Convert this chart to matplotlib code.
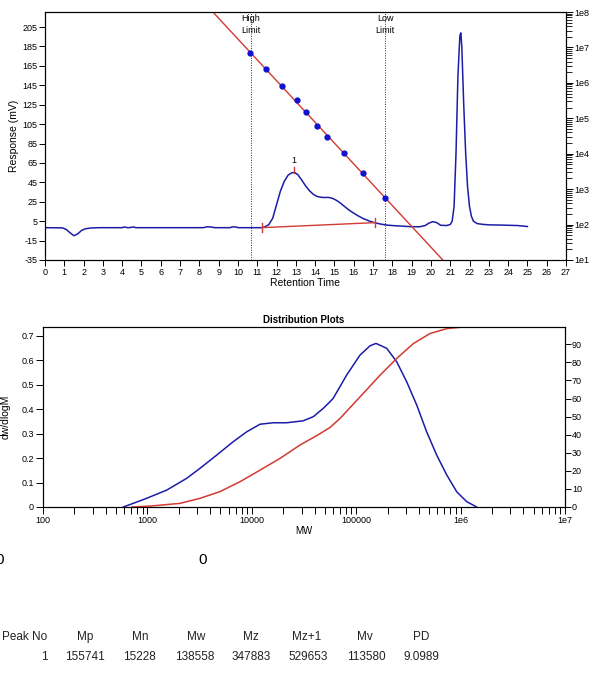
import numpy as np
import matplotlib.pyplot as plt
from matplotlib.ticker import FixedLocator, LogLocator, NullFormatter

plt.rcParams['font.family'] = ['Liberation Sans', 'DejaVu Sans']
plt.rcParams['axes.unicode_minus'] = False

# chromatogram: retention time (min) vs response (mV)
rt = [0, 0.9, 1.1, 1.3, 1.5, 1.7, 1.9, 2.1, 2.4, 2.8, 4.0, 4.1, 4.3, 4.6, 4.7,
      8.2, 8.4, 8.6, 8.8, 9.6, 9.7, 9.9, 10.0, 11.2, 11.4, 11.6, 11.8, 12.0,
      12.2, 12.4, 12.6, 12.8, 12.95, 13.1, 13.3, 13.5, 13.7, 13.9, 14.1, 14.3,
      14.5, 14.7, 14.9, 15.1, 15.3, 15.5, 15.7, 15.9, 16.2, 16.5, 16.8, 17.1,
      17.4, 17.7, 18.0, 18.4, 18.9, 19.4, 19.7, 19.9, 20.1, 20.3, 20.5, 20.8,
      21.0, 21.1, 21.2, 21.3, 21.4, 21.5, 21.55, 21.6, 21.7, 21.8, 21.9, 22.0,
      22.1, 22.2, 22.4, 22.7, 23.0, 23.6, 24.5, 25.0]
mv = [-1.7, -1.9, -3.5, -7, -10, -8, -4.5, -2.8, -2.0, -1.7, -1.7, -1.0, -1.8, -1.0, -1.7,
      -1.7, -0.8, -1.0, -1.7, -1.7, -0.9, -1.0, -1.7, -1.7, -0.8, 1.5, 8, 22,
      36, 46, 52.5, 55, 55, 53, 47.5, 41.5, 36.5, 32.7, 30.5, 29.6,
      29.4, 29.5, 28.5, 26.5, 23.8, 20.5, 17.3, 14.5, 10.8, 7.6, 5.2, 3.3,
      2.0, 1.0, 0.5, 0, -0.6, -0.8, 0.5, 3, 4.5, 3.5, 0.8, 0.5,
      1.5, 5, 20, 75, 155, 196, 199, 185, 125, 75, 40, 20,
      10, 5, 2.5, 1.7, 1.2, 1.0, 0.5, -0.5]

# calibration standards: retention time vs log10(M)
cal_rt = [10.62, 11.45, 12.28, 13.06, 13.52, 14.09, 14.61, 15.49, 16.48, 17.62]
cal_logm = [6.84, 6.39, 5.91, 5.52, 5.18, 4.78, 4.47, 4.02, 3.46, 2.75]

high_limit = 10.65
low_limit = 17.62
base_rt = [11.23, 17.1]
base_mv = [-1.7, 3.5]
peak_rt, peak_mv = 12.92, 55

# distribution plots (log10 MW)
dw_logm = [2.77, 2.865, 2.99, 3.185, 3.376, 3.504, 3.664, 3.823, 3.951, 4.079,
           4.206, 4.334, 4.493, 4.59, 4.685, 4.749, 4.78, 4.909, 5.036,
           5.132, 5.19, 5.292, 5.388, 5.484, 5.58, 5.675, 5.771, 5.867, 5.963,
           6.058, 6.154]
dw = [0, 0.015, 0.035, 0.069, 0.117, 0.158, 0.212, 0.267, 0.307, 0.338,
      0.344, 0.344, 0.352, 0.369, 0.403, 0.43, 0.444, 0.539, 0.62,
      0.658, 0.668, 0.648, 0.593, 0.511, 0.416, 0.307, 0.212, 0.131, 0.062,
      0.022, 0.0]
cum_logm = [2.85, 3.025, 3.312, 3.504, 3.695, 3.887, 4.079, 4.27, 4.462, 4.622,
            4.749, 4.845, 5.036, 5.228, 5.388, 5.547, 5.707, 5.867, 6.026, 6.17]
cum = [0, 0.5, 2.0, 4.8, 8.5, 14, 20.4, 26.9, 34.3, 39.5,
       44.0, 49, 60.9, 72.9, 82.2, 90.4, 96, 98.7, 99.6, 99.6]

headers = ["Peak No", "Mp", "Mn", "Mw", "Mz", "Mz+1", "Mv", "PD"]
values = ["1", "155741", "15228", "138558", "347883", "529653", "113580", "9.0989"]

blue = '#1c1ca8'
red = '#d23a32'

fig = plt.figure(figsize=(6, 6.98), dpi=100)
W, H = 600, 698

# ---- chromatogram ----
ax1 = fig.add_axes([45 / W, 1 - 260 / H, 521 / W, 248 / H])
ax1.plot(rt, mv, color=blue, lw=1.1)
ax1.set_xlim(0, 27)
ax1.set_ylim(-35, 220.5)
ax1.set_xticks(range(0, 28))
ax1.set_yticks(range(-35, 206, 20))
ax1.tick_params(direction='out', length=4, width=0.7, labelsize=6.5, pad=1.5)
ax1.set_xlabel("Retention Time", fontsize=7.5, labelpad=1)
ax1.set_ylabel("Response (mV)", fontsize=7.5, labelpad=2)
for lim in (high_limit, low_limit):
    ax1.axvline(lim, color=blue, lw=0.7, ls=(0, (1, 1.5)))
ax1.text(high_limit, 214, "High", ha='center', va='center', fontsize=6.5)
ax1.text(high_limit, 201, "Limit", ha='center', va='center', fontsize=6.5)
ax1.text(low_limit, 214, "Low", ha='center', va='center', fontsize=6.5)
ax1.text(low_limit, 201, "Limit", ha='center', va='center', fontsize=6.5)

# integration baseline with end marks
ax1.plot(base_rt, base_mv, color=red, lw=1)
for bx, by in zip(base_rt, base_mv):
    ax1.plot([bx, bx], [by - 4.5, by + 4.5], color=red, lw=1)
ax1.plot([peak_rt, peak_rt], [peak_mv, peak_mv + 6], color=red, lw=1)
ax1.text(peak_rt, peak_mv + 8, "1", ha='center', va='bottom', fontsize=6.5)

# calibration on log axis
ax1r = ax1.twinx()
ax1r.set_yscale('log')
ax1r.set_ylim(10, 1e8)
coef = np.polyfit(cal_rt, cal_logm, 1)
xs = np.linspace(0, 27, 200)
ax1r.plot(xs, 10 ** np.polyval(coef, xs), color=red, lw=1)
ax1r.plot(cal_rt, 10 ** np.array(cal_logm), 'o', color='#1010d0', ms=3.5)
ax1r.yaxis.set_major_locator(FixedLocator([10 ** k for k in range(1, 9)]))
ax1r.set_yticklabels(["1e%d" % k for k in range(1, 9)])
ax1r.yaxis.set_minor_locator(LogLocator(base=10, subs=np.arange(2, 10)))
ax1r.yaxis.set_minor_formatter(NullFormatter())
ax1r.tick_params(which='major', direction='out', length=5, width=0.7, labelsize=6.5, pad=1)
ax1r.tick_params(which='minor', direction='out', length=4, width=0.6)
ax1r.set_xlim(0, 27)

# ---- distribution plots ----
ax2 = fig.add_axes([43 / W, 1 - 507 / H, 522 / W, 180 / H])
ax2.set_xscale('log')
ax2.plot(10 ** np.array(dw_logm), dw, color=blue, lw=1.1)
ax2.set_xlim(100, 1e7)
ax2.set_ylim(0, 0.735)
ax2.set_yticks(np.arange(0, 0.71, 0.1))
ax2.set_yticklabels(["0"] + ["%.1f" % v for v in np.arange(0.1, 0.71, 0.1)])
ax2.xaxis.set_major_locator(FixedLocator([10 ** k for k in range(2, 8)]))
ax2.set_xticklabels(["100", "1000", "10000", "100000", "1e6", "1e7"])
ax2.xaxis.set_minor_locator(LogLocator(base=10, subs=np.arange(2, 10)))
ax2.xaxis.set_minor_formatter(NullFormatter())
ax2.tick_params(which='both', direction='out', length=5, width=0.7, labelsize=6.5, pad=1.5)
ax2.set_xlabel("MW", fontsize=7, labelpad=1)
ax2.set_ylabel("dw/dlogM", fontsize=7.5, labelpad=8)
ax2.set_title("Distribution Plots", fontsize=7, fontweight='bold', pad=3)

ax2r = ax2.twinx()
ax2r.plot(10 ** np.array(cum_logm), cum, color=red, lw=1.1)
ax2r.set_ylim(0, 99.6)
ax2r.set_yticks(range(0, 91, 10))
ax2r.tick_params(direction='out', length=4, width=0.7, labelsize=6.5, pad=1)
for a in (ax1, ax2, ax1r, ax2r):
    for s in a.spines.values():
        s.set_linewidth(0.8)

# ---- results text ----
fig.text(0 / W, 1 - 560 / H, "0", ha='center', va='center', fontsize=11)
fig.text(203 / W, 1 - 560 / H, "0", ha='center', va='center', fontsize=11)

head_x = [25, 85, 140, 196, 251, 307, 365, 421]
val_x = [48, 105, 156, 214, 271, 328, 386, 439]
for hx, h in zip(head_x, headers):
    fig.text(hx / W, 1 - 637 / H, h, ha='center', va='center', fontsize=8.5, color='#222222')
for vx, v in zip(val_x, values):
    fig.text(vx / W, 1 - 657 / H, v, ha='right', va='center', fontsize=8.5, color='#222222')

fig.savefig("out.png", dpi=100)
